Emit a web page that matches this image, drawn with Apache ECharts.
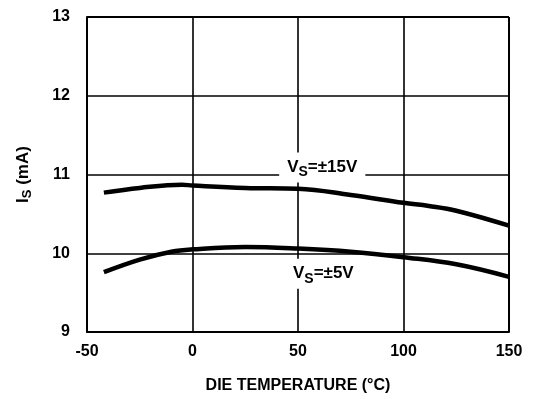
<!DOCTYPE html>
<html>
<head>
<meta charset="utf-8">
<script src="https://cdn.jsdelivr.net/npm/echarts@6/dist/echarts.min.js"></script>
<style>
  html, body { margin: 0; padding: 0; background: #fff; }
  #chart { width: 535px; height: 399px; }
</style>
</head>
<body>
<div id="chart"></div>
<script>
// Supply current vs die temperature, two supply voltages
const temps15 = [-42, -25, -5, 0, 25, 50, 75, 100, 112, 125, 150];
const current15 = [10.77, 10.83, 10.87, 10.86, 10.83, 10.82, 10.74, 10.64, 10.60, 10.54, 10.35];

const temps5 = [-42, -25, -10, 0, 25, 50, 75, 100, 125, 150];
const current5 = [9.76, 9.92, 10.02, 10.05, 10.08, 10.06, 10.02, 9.95, 9.86, 9.70];

const xTicks = [-50, 0, 50, 100, 150];
const yTicks = [9, 10, 11, 12, 13];

// Curve annotations: [temperature, current] anchor of each label
const label15Pos = [61.5, 11.09];
const label5Pos = [62, 9.74];

const FONT = 'Liberation Sans, Arial, Helvetica, sans-serif';
const ink = '#000';

function pairs(xs, ys) { return xs.map((x, i) => [x, ys[i]]); }

function curveLabel(pos, text) {
  return {
    symbol: 'circle',
    symbolSize: 0,
    silent: true,
    data: [{
      coord: pos,
      label: {
        show: true,
        position: 'inside',
        formatter: text,
        color: ink,
        fontFamily: FONT,
        fontWeight: 'bold',
        fontSize: 17,
        backgroundColor: '#fff',
        padding: [3, 8, 3, 8],
        rich: {
          v: { fontFamily: FONT, fontWeight: 'bold', fontSize: 17, color: ink },
          s: { fontFamily: FONT, fontWeight: 'bold', fontSize: 14, color: ink, padding: [10, 0, 0, 0] }
        }
      }
    }]
  };
}

const chart = echarts.init(document.getElementById('chart'), null, { renderer: 'canvas' });

chart.setOption({
  animation: false,
  backgroundColor: '#fff',
  grid: { left: 87, top: 17, right: 26, bottom: 67, show: false },
  xAxis: {
    type: 'value',
    min: xTicks[0],
    max: xTicks[xTicks.length - 1],
    interval: 50,
    name: 'DIE TEMPERATURE (°C)',
    nameLocation: 'middle',
    nameGap: 46,
    nameTextStyle: { fontFamily: FONT, fontWeight: 'bold', fontSize: 16, color: ink },
    axisLine: { show: true, onZero: false, lineStyle: { color: ink, width: 2 } },
    axisTick: { show: false },
    axisLabel: { fontFamily: FONT, fontWeight: 'bold', fontSize: 16, color: ink, margin: 12 },
    splitLine: { show: true, lineStyle: { color: ink, width: 1.6 } }
  },
  yAxis: {
    type: 'value',
    min: yTicks[0],
    max: yTicks[yTicks.length - 1],
    interval: 1,
    name: '{v|I}{s|S}{v| (mA)}',
    nameLocation: 'middle',
    nameGap: 53,
    nameRotate: 90,
    nameTextStyle: {
      fontFamily: FONT, fontWeight: 'bold', fontSize: 17, color: ink,
      rich: {
        v: { fontFamily: FONT, fontWeight: 'bold', fontSize: 17, color: ink },
        s: { fontFamily: FONT, fontWeight: 'bold', fontSize: 13, color: ink, padding: [9, 0, 0, 0] }
      }
    },
    axisLine: { show: true, onZero: false, lineStyle: { color: ink, width: 2 } },
    axisTick: { show: false },
    axisLabel: { fontFamily: FONT, fontWeight: 'bold', fontSize: 16, color: ink, margin: 17 },
    splitLine: { show: true, lineStyle: { color: ink, width: 1.6 } }
  },
  series: [
    {
      type: 'line',
      data: pairs(temps15, current15),
      smooth: 0.4,
      showSymbol: false,
      lineStyle: { color: ink, width: 4.5, cap: 'butt' },
      z: 3,
      markPoint: curveLabel(label15Pos, '{v|V}{s|S}{v|=±15V}')
    },
    {
      type: 'line',
      data: pairs(temps5, current5),
      smooth: 0.4,
      showSymbol: false,
      lineStyle: { color: ink, width: 4.5, cap: 'butt' },
      z: 3,
      markPoint: curveLabel(label5Pos, '{v|V}{s|S}{v|=±5V}')
    },
    {
      // right and top frame edges
      type: 'line',
      data: [],
      markLine: {
        silent: true,
        symbol: 'none',
        label: { show: false },
        lineStyle: { color: ink, width: 2, type: 'solid' },
        data: [{ xAxis: xTicks[xTicks.length - 1] }, { yAxis: yTicks[yTicks.length - 1] }]
      }
    }
  ]
});
</script>
</body>
</html>
